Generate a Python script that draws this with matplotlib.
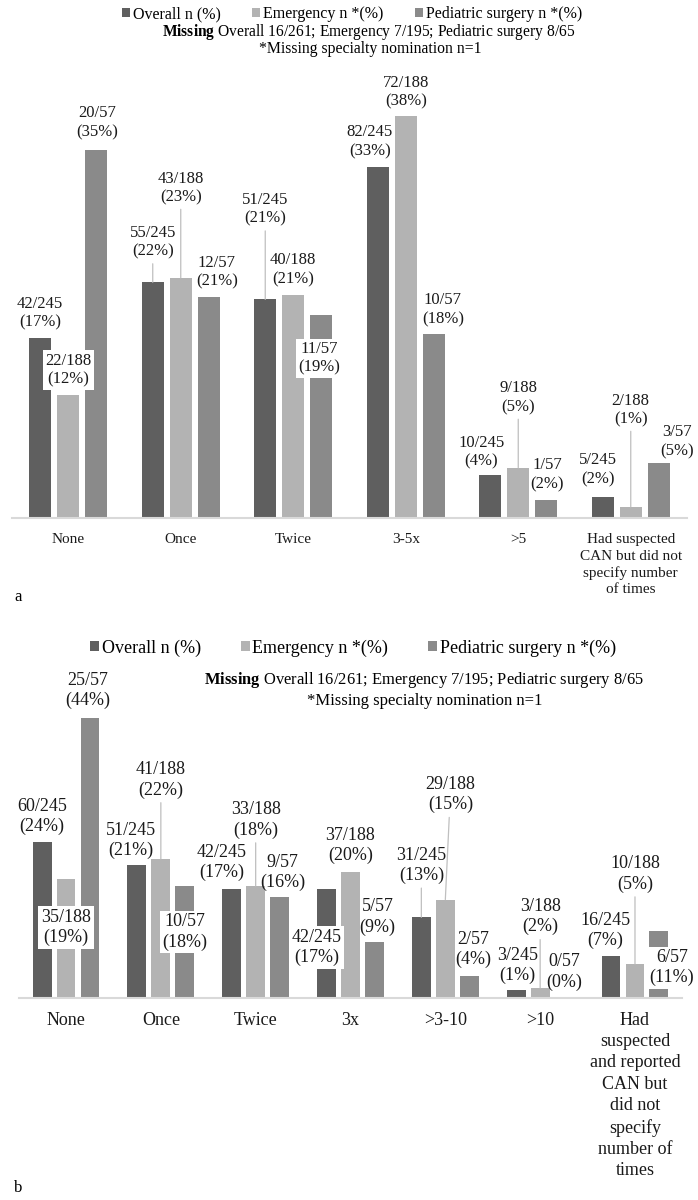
import matplotlib
matplotlib.use('Agg')
import matplotlib.pyplot as plt

plt.rcParams['font.family'] = ['Liberation Serif', 'DejaVu Serif']
plt.rcParams['mathtext.fontset'] = 'custom'
plt.rcParams['mathtext.rm'] = 'Liberation Serif'
plt.rcParams['mathtext.bf'] = 'Liberation Serif:bold'

# Data (panel a: times suspected CAN, panel b: times suspected and reported CAN)
series_names = ['Overall n (%)', 'Emergency n *(%)', 'Pediatric surgery n *(%)']
denoms = [245, 188, 57]

cats_a = ['None', 'Once', 'Twice', '3-5x', '>5',
          'Had suspected\nCAN but did not\nspecify number\nof times']
overall_a = [42, 55, 51, 82, 10, 5]
emergency_a = [22, 43, 40, 72, 9, 2]
pediatric_a = [20, 12, 11, 10, 1, 3]

cats_b = ['None', 'Once', 'Twice', '3x', '>3-10', '>10',
          'Had\nsuspected\nand reported\nCAN but\ndid not\nspecify\nnumber of\ntimes']
overall_b = [60, 51, 42, 42, 31, 3, 16]
emergency_b = [35, 41, 33, 37, 29, 3, 10]
pediatric_b = [25, 10, 9, 5, 2, 0, 6]

missing_note = r'$\mathbf{Missing}$ Overall 16/261; Emergency 7/195; Pediatric surgery 8/65'
specialty_note = '*Missing specialty nomination n=1'

colors = ['#5f5f5f', '#b3b3b3', '#8a8a8a']

# label placement: (dx px, dy px, style) relative to bar top; L = leader line, B = white box
lay_a = [
    [(0, 25, ''), (0, 40, 'L'), (0, 90, 'L'), (-8, 25, ''), (-9, 23, ''), (-5, 27, '')],
    [(0, 25, 'B'), (0, 90, 'L'), (0, 25, ''), (0, 24, ''), (0, 70, 'L'), (0, 97, 'L')],
    [(1, 27, ''), (8, 25, ''), (-2, -43, 'B'), (9, 24, ''), (1, 25, ''), (18, 21, '')],
]
lay_b = [
    [(0, 25, ''), (-6, 25, ''), (-10, 26, ''), (-10, -59, 'B'), (0, 52, 'L'), (1, 25, ''), (-6, 26, '')],
    [(0, -48, 'B'), (0, 79, 'L'), (0, 66, 'L'), (0, 27, ''), (5, 105, 'L'), (0, 71, 'L'), (0, 90, 'L')],
    [(-2, 28, ''), (0, -46, 'B'), (3, 25, ''), (3, 25, ''), (4, 26, ''), (0, 26, ''), (13, -37, 'B')],
]


def draw_panel(ax, cats, series, layout, step, width, ylim, fs, tick_fs, pad):
    xs = list(range(len(cats)))
    bars = []
    for i, counts in enumerate(series):
        pct = [100.0 * c / denoms[i] for c in counts]
        pos = [x + (i - 1) * step for x in xs]
        b = ax.bar(pos, pct, width=width, color=colors[i], label=series_names[i], zorder=1)
        bars.append(b)
        for j, c in enumerate(counts):
            dx, dy, style = layout[i][j]
            txt = '%d/%d\n(%d%%)' % (c, denoms[i], round(pct[j]))
            kw = {}
            if style == 'B':
                kw['bbox'] = dict(boxstyle='square,pad=0.15', fc='white', ec='none')
            if style == 'L':
                kw['arrowprops'] = dict(arrowstyle='-', color='#bfbfbf', lw=0.9,
                                        shrinkA=1, shrinkB=0)
            ax.annotate(txt, xy=(pos[j], pct[j]), xytext=(dx, dy),
                        textcoords='offset pixels', ha='center', va='center',
                        fontsize=fs, linespacing=1.22, color='#1a1a1a', zorder=3, **kw)
    ax.set_xlim(-0.5, len(cats) - 0.5)
    ax.set_ylim(*ylim)
    ax.set_xticks(xs)
    ax.set_xticklabels(cats, fontsize=tick_fs, linespacing=1.33, color='#1a1a1a')
    ax.tick_params(axis='x', length=0, pad=pad)
    ax.set_yticks([])
    for s in ['top', 'left', 'right']:
        ax.spines[s].set_visible(False)
    ax.spines['bottom'].set_color('#d9d9d9')
    ax.spines['bottom'].set_linewidth(1.5)
    ax.patch.set_alpha(0)
    return bars


fig = plt.figure(figsize=(6.98, 12), dpi=100)

# panel a
ax_a = fig.add_axes([12 / 698, 682 / 1200, 675 / 698, 420 / 1200])
bars_a = draw_panel(ax_a, cats_a, [overall_a, emergency_a, pediatric_a], lay_a,
                    0.249, 0.196, (0, 40), 12, 11, 11)
fig.legend(handles=bars_a, loc='center', bbox_to_anchor=(352 / 698, 1 - 14 / 1200),
           ncol=3, frameon=False, fontsize=11.5, handlelength=0.5, handleheight=0.5,
           handletextpad=0.15, columnspacing=2.0, borderpad=0)
fig.text(162 / 698, 1 - 32 / 1200, missing_note, ha='left', va='center', fontsize=11.2)
fig.text(370 / 698, 1 - 49 / 1200, specialty_note, ha='center', va='center', fontsize=11.3)
fig.text(14 / 698, 1 - 597 / 1200, 'a', ha='left', va='center', fontsize=12)

# panel b
ax_b = fig.add_axes([18.6 / 698, 202 / 1200, 663.8 / 698, 287 / 1200])
bars_b = draw_panel(ax_b, cats_b, [overall_b, emergency_b, pediatric_b], lay_b,
                    0.253, 0.2, (0, 45), 13, 13, 10)
fig.legend(handles=bars_b, loc='center', bbox_to_anchor=(353 / 698, 1 - 648 / 1200),
           ncol=3, frameon=False, fontsize=13, handlelength=0.5, handleheight=0.5,
           handletextpad=0.15, columnspacing=2.2, borderpad=0)
fig.text(204 / 698, 1 - 680 / 1200, missing_note, ha='left', va='center', fontsize=11.9)
fig.text(425 / 698, 1 - 701 / 1200, specialty_note, ha='center', va='center', fontsize=12)
fig.text(14 / 698, 1 - 1188 / 1200, 'b', ha='left', va='center', fontsize=12)

fig.savefig('out.png', dpi=100, facecolor='white')
